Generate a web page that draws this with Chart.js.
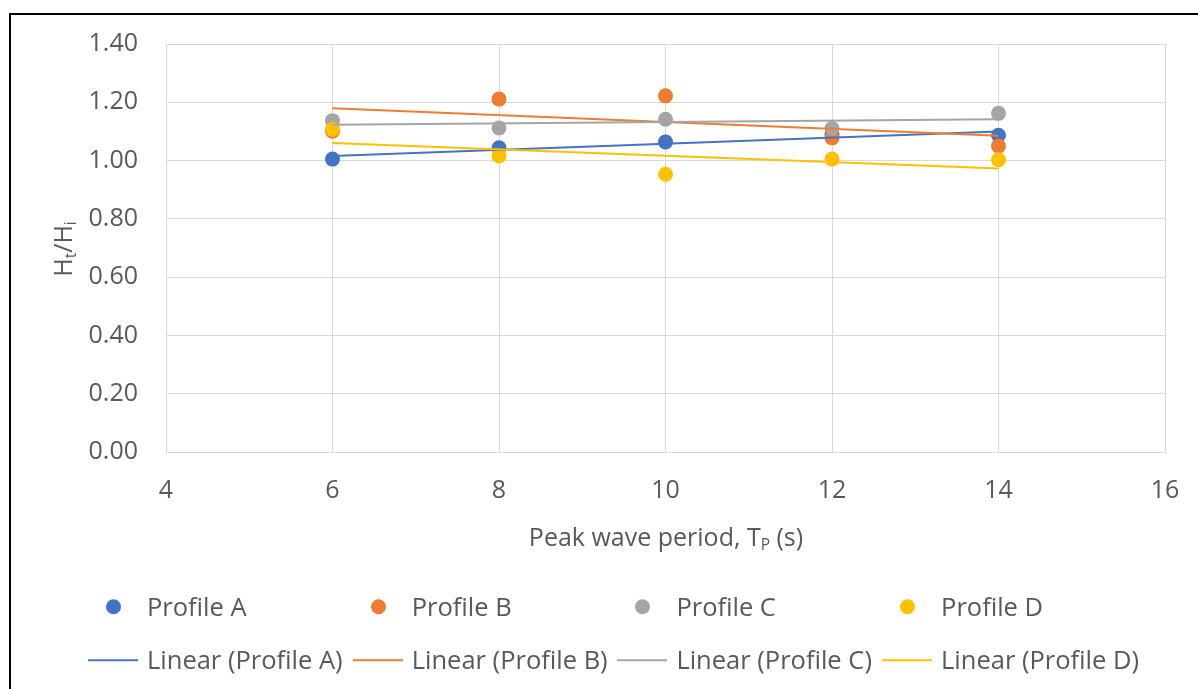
<!DOCTYPE html>
<html>
<head>
<meta charset="utf-8">
<title>Ht/Hi vs peak wave period</title>
<script src="https://cdn.jsdelivr.net/npm/chart.js@4.4.1/dist/chart.umd.min.js"></script>
<style>
  html, body { margin: 0; padding: 0; background: #fff; }
  #wrap { position: relative; width: 1198px; height: 689px; overflow: hidden;
          font-family: 'Open Sans', sans-serif; color: #595959; }
  #frame { position: absolute; left: 9px; top: 13px; width: 1400px; height: 900px;
           border-left: 2px solid #000; border-top: 2px solid #000; }
  #chart { position: absolute; left: 0; top: 0; }
  .axis-title { position: absolute; font-size: 25px; white-space: nowrap; line-height: 1; }
  #ytitle { left: 62px; top: 249px; transform: translate(-50%, -50%) rotate(-90deg); }
  #xtitle { left: 666px; top: 536px; transform: translate(-50%, -50%); }
  .axis-title sub { font-size: 62%; vertical-align: -0.3em; line-height: 0; }
  .legend-row { position: absolute; left: 88px; display: flex; font-size: 25.5px; line-height: 1; }
  #legend1 { top: 607px; }
  #legend2 { top: 660px; }
  .legend-item { width: 264.7px; display: flex; align-items: center; transform: translateY(-50%); }
  .legend-sym { width: 50px; height: 16px; margin-right: 9px; position: relative; flex: none; }
  .legend-sym .dot { position: absolute; left: 18px; top: 0.5px; width: 15px; height: 15px; border-radius: 50%; }
  .legend-sym .line { position: absolute; left: 0; top: 7px; width: 50px; height: 2px; }
</style>
</head>
<body>
<div id="wrap">
  <canvas id="chart" width="1198" height="689"></canvas>
  <div id="frame"></div>
  <div id="ytitle" class="axis-title">H<sub>t</sub>/H<sub>i</sub></div>
  <div id="xtitle" class="axis-title">Peak wave period, T<sub>P</sub> (s)</div>
  <div id="legend1" class="legend-row"></div>
  <div id="legend2" class="legend-row"></div>
</div>
<script>
// Measured transmission ratio Ht/Hi for each profile at each peak period
const periods  = [6, 8, 10, 12, 14];
const profileA = [1.005, 1.044, 1.064, 1.090, 1.087];
const profileB = [1.101, 1.211, 1.222, 1.078, 1.050];
const profileC = [1.137, 1.112, 1.142, 1.110, 1.162];
const profileD = [1.107, 1.016, 0.953, 1.005, 1.003];

const profileNames  = ['Profile A', 'Profile B', 'Profile C', 'Profile D'];
const profileColors = ['#4472C4', '#ED7D31', '#A5A5A5', '#FFC000'];

const xTickValues = [4, 6, 8, 10, 12, 14, 16];
const yTickValues = [0.0, 0.2, 0.4, 0.6, 0.8, 1.0, 1.2, 1.4];

// Least-squares straight line through a series
function linearFit(xs, ys) {
  const n = xs.length;
  const mx = xs.reduce((a, b) => a + b, 0) / n;
  const my = ys.reduce((a, b) => a + b, 0) / n;
  let sxy = 0, sxx = 0;
  for (let i = 0; i < n; i++) {
    sxy += (xs[i] - mx) * (ys[i] - my);
    sxx += (xs[i] - mx) * (xs[i] - mx);
  }
  const slope = sxy / sxx;
  return { slope, intercept: my - slope * mx };
}

const allSeries = [profileA, profileB, profileC, profileD];

const pointSets = allSeries.map((ys, i) => ({
  type: 'scatter',
  label: profileNames[i],
  data: periods.map((x, j) => ({ x, y: ys[j] })),
  backgroundColor: profileColors[i],
  borderColor: profileColors[i],
  pointRadius: 7.5,
  pointHoverRadius: 7.5,
  borderWidth: 0,
  showLine: false,
  order: 8 - i,
  legendKind: 'dot'
}));

const trendSets = allSeries.map((ys, i) => {
  const fit = linearFit(periods, ys);
  const x0 = periods[0], x1 = periods[periods.length - 1];
  return {
    type: 'scatter',
    label: 'Linear (' + profileNames[i] + ')',
    data: [{ x: x0, y: fit.intercept + fit.slope * x0 },
           { x: x1, y: fit.intercept + fit.slope * x1 }],
    borderColor: profileColors[i],
    backgroundColor: profileColors[i],
    borderWidth: 2,
    pointRadius: 0,
    pointHoverRadius: 0,
    showLine: true,
    order: 4 - i,
    legendKind: 'line'
  };
});

const gridColor = '#d9d9d9';
const tickFont = { family: "'Open Sans', sans-serif", size: 25 };

const chart = new Chart(document.getElementById('chart'), {
  type: 'scatter',
  data: { datasets: [...pointSets, ...trendSets] },
  options: {
    responsive: false,
    devicePixelRatio: 1,
    animation: false,
    events: [],
    layout: { padding: { left: 0, top: 44, right: 33, bottom: 177 } },
    plugins: { legend: { display: false }, tooltip: { enabled: false } },
    scales: {
      x: {
        type: 'linear',
        min: xTickValues[0],
        max: xTickValues[xTickValues.length - 1],
        afterBuildTicks: s => { s.ticks = xTickValues.map(v => ({ value: v })); },
        afterFit: s => { s.height = 60; s.paddingLeft = 0; s.paddingRight = 0; },
        ticks: { color: '#595959', font: tickFont, padding: 24, maxRotation: 0,
                 callback: v => String(v) },
        grid: { color: gridColor, lineWidth: 1, drawTicks: false },
        border: { color: gridColor, width: 1 }
      },
      y: {
        type: 'linear',
        min: yTickValues[0],
        max: yTickValues[yTickValues.length - 1],
        afterBuildTicks: s => { s.ticks = yTickValues.map(v => ({ value: v })); },
        afterFit: s => { s.width = 166; s.paddingTop = 0; s.paddingBottom = 0; },
        ticks: { color: '#595959', font: tickFont, padding: 28,
                 callback: v => Number(v).toFixed(2) },
        grid: { color: gridColor, lineWidth: 1, drawTicks: false },
        border: { color: gridColor, width: 1 }
      }
    }
  }
});

// Legend: markers in the first row, trendlines in the second
function buildLegend(rowId, kind) {
  const row = document.getElementById(rowId);
  chart.data.datasets.filter(d => d.legendKind === kind).forEach(d => {
    const item = document.createElement('div');
    item.className = 'legend-item';
    const sym = document.createElement('div');
    sym.className = 'legend-sym';
    const mark = document.createElement('div');
    mark.className = kind;
    mark.style.background = d.borderColor;
    sym.appendChild(mark);
    const txt = document.createElement('span');
    txt.textContent = d.label;
    item.appendChild(sym);
    item.appendChild(txt);
    row.appendChild(item);
  });
}
buildLegend('legend1', 'dot');
buildLegend('legend2', 'line');
</script>
</body>
</html>
